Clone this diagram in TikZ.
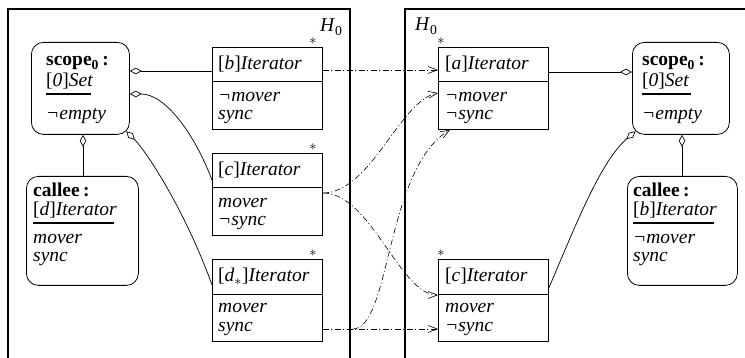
\documentclass[tikz,border=0pt]{standalone}
\usepackage{fontspec}
\setmainfont{Liberation Serif}
\usetikzlibrary{arrows.meta,calc}
\newcommand{\twolines}[2]{\begin{tabular}[t]{@{}l@{}}#1\\#2\end{tabular}}
\begin{document}
\begin{tikzpicture}[x=1pt,y=-1pt,
  font=\fontsize{19.5}{18}\selectfont,
  itbox/.style={draw,line width=0.8pt,minimum width=110pt,minimum height=82pt,anchor=north west,inner sep=0pt},
  rbox/.style={draw,line width=0.8pt,rounded corners=12pt,anchor=north west,inner sep=0pt},
  frame/.style={draw,line width=1.6pt},
  txt/.style={anchor=base west,inner sep=0pt},
  star/.style={inner sep=0pt,font=\fontsize{15}{15}\selectfont},
  uline/.style={line width=2pt},
  agg/.style={line width=0.7pt,{Diamond[open,length=12pt,width=6.5pt]}-},
  dd/.style={line width=0.6pt,dash pattern=on 6pt off 2.5pt on 1pt off 2.5pt,-{Straight Barb[length=9pt,width=7pt]}},
  dline/.style={line width=0.6pt,dash pattern=on 6pt off 2.5pt on 1pt off 2.5pt}
]
\useasboundingbox (0,0) rectangle (745,358);
\clip (0,0) rectangle (745,358);

% frames
\draw[frame] (8,9) rectangle (350,380);
\draw[frame] (405,9) rectangle (770,380);
\node[txt] (h0l) at (320,32) {\textit{H}\textsubscript{0}};
\node[txt] (h0r) at (415,31) {\textit{H}\textsubscript{0}};

% ---------- left side ----------
\node[rbox,minimum width=98pt,minimum height=92pt] (sL) at (31,42) {};
\node[txt] (sLt1) at (46,66) {\textbf{scope\textsubscript{0}\,:}};
\node[txt] (sLt2) at (46,87) {[\textit{0}]\textit{Set}};
\draw[uline] (46,94) -- (91,94);
\node[txt] (sLt3) at (46,120) {\textit{¬empty}};

\node[rbox,minimum width=112pt,minimum height=109pt] (cL) at (26,176) {};
\node[txt] (cLt1) at (33,197) {\textbf{callee}\,\textbf{:}};
\node[txt] (cLt2) at (33,216) {[\textit{d}]\textit{Iterator}};
\draw[uline] (33,223) -- (114,223);
\node[txt] (cLt3) at (33,244) {\twolines{\textit{mover}}{\textit{sync}}};

\node[itbox] (bL) at (212,47) {};
\draw[line width=0.8pt] ($(bL.north west)+(0,34)$) -- ($(bL.north east)+(0,34)$);
\node[txt] (bLt1) at (218,70) {[\textit{b}]\textit{Iterator}};
\node[txt] (bLt2) at (218,102) {\twolines{\textit{¬mover}}{\textit{sync}}};
\node[star] (bLs) at (313,41) {$*$};

\node[itbox] (ciL) at (212,153) {};
\draw[line width=0.8pt] ($(ciL.north west)+(0,34)$) -- ($(ciL.north east)+(0,34)$);
\node[txt] (ciLt1) at (218,176) {[\textit{c}]\textit{Iterator}};
\node[txt] (ciLt2) at (218,208) {\twolines{\textit{mover}}{\textit{¬sync}}};
\node[star] (ciLs) at (313,147) {$*$};

\node[itbox] (dL) at (212,259) {};
\draw[line width=0.8pt] ($(dL.north west)+(0,35)$) -- ($(dL.north east)+(0,35)$);
\node[txt] (dLt1) at (218,282) {[\textit{d}$_*$]\textit{Iterator}};
\node[txt] (dLt2) at (218,313) {\twolines{\textit{mover}}{\textit{sync}}};
\node[star] (dLs) at (313,253) {$*$};

% left aggregations
\coordinate (pb) at ($(bL.north west)+(0,24)$);
\draw[agg] (sL.east |- pb) -- (pb);
\coordinate (sL2) at ($(sL.north east)+(0,52)$);
\draw[agg] (sL2) .. controls +(36,0) and +(-17,-45) .. ($(ciL.north west)+(0,27)$);
\draw[agg] ($(sL.south east)+(-3.5,-3.5)$) .. controls +(20,20) and +(-27,-75) .. ($(dL.north west)+(0,26)$);
\draw[agg] (sL.south -| 83,0) -- (cL.north -| 83,0);

% ---------- right side ----------
\node[itbox] (aR) at (438,47) {};
\draw[line width=0.8pt] ($(aR.north west)+(0,34)$) -- ($(aR.north east)+(0,34)$);
\node[txt] (aRt1) at (445,70) {[\textit{a}]\textit{Iterator}};
\node[txt] (aRt2) at (445,102) {\twolines{\textit{¬mover}}{\textit{¬sync}}};
\node[star] (aRs) at (441,41) {$*$};

\node[itbox] (ciR) at (438,259) {};
\draw[line width=0.8pt] ($(ciR.north west)+(0,35)$) -- ($(ciR.north east)+(0,35)$);
\node[txt] (ciRt1) at (445,282) {[\textit{c}]\textit{Iterator}};
\node[txt] (ciRt2) at (445,313) {\twolines{\textit{mover}}{\textit{¬sync}}};
\node[star] (ciRs) at (441,253) {$*$};

\node[rbox,minimum width=97pt,minimum height=92pt] (sR) at (632,42) {};
\node[txt] (sRt1) at (642,66) {\textbf{scope\textsubscript{0}\,:}};
\node[txt] (sRt2) at (642,87) {[\textit{0}]\textit{Set}};
\draw[uline] (642,94) -- (691,94);
\node[txt] (sRt3) at (642,120) {\textit{¬empty}};

\node[rbox,minimum width=110pt,minimum height=109pt] (cR) at (627,176) {};
\node[txt] (cRt1) at (633,197) {\textbf{callee}\,\textbf{:}};
\node[txt] (cRt2) at (633,216) {[\textit{b}]\textit{Iterator}};
\draw[uline] (633,223) -- (714,223);
\node[txt] (cRt3) at (633,244) {\twolines{\textit{¬mover}}{\textit{sync}}};

% right aggregations
\coordinate (pa) at ($(aR.north east)+(0,25)$);
\draw[agg] (sR.west |- pa) -- (pa);
\draw[agg] ($(sR.south west)+(3.5,-3.5)$) .. controls +(-35,30) and +(27,-63) .. ($(ciR.north east)+(0,29)$);
\draw[agg] (sR.south -| 682,0) -- (cR.north -| 682,0);

% ---------- dash-dot arrows ----------
\draw[dd] ($(bL.north east)+(0,23)$) -- ($(aR.north west)+(0,23)$);
\coordinate (cst) at ($(ciL.north east)+(0,40)$);
\draw[dd] (cst) .. controls +(48,0) and +(-38,7) .. ($(aR.north west)+(0,46)$);
\draw[dd] (cst) .. controls +(48,0) and +(-38,0) .. ($(ciR.north west)+(0,36)$);
\coordinate (dst) at ($(dL.north east)+(0,70)$);
\draw[dd] (dst) -- ($(ciR.north west)+(0,70)$);
\coordinate (dbend) at ($(dst)+(30,0)$);
\draw[dline] (dst) -- (dbend);
\draw[dd] (dbend) .. controls +(38,0) and +(-65,39) .. ($(aR.south west)+(12,0)$);
\end{tikzpicture}
\end{document}
